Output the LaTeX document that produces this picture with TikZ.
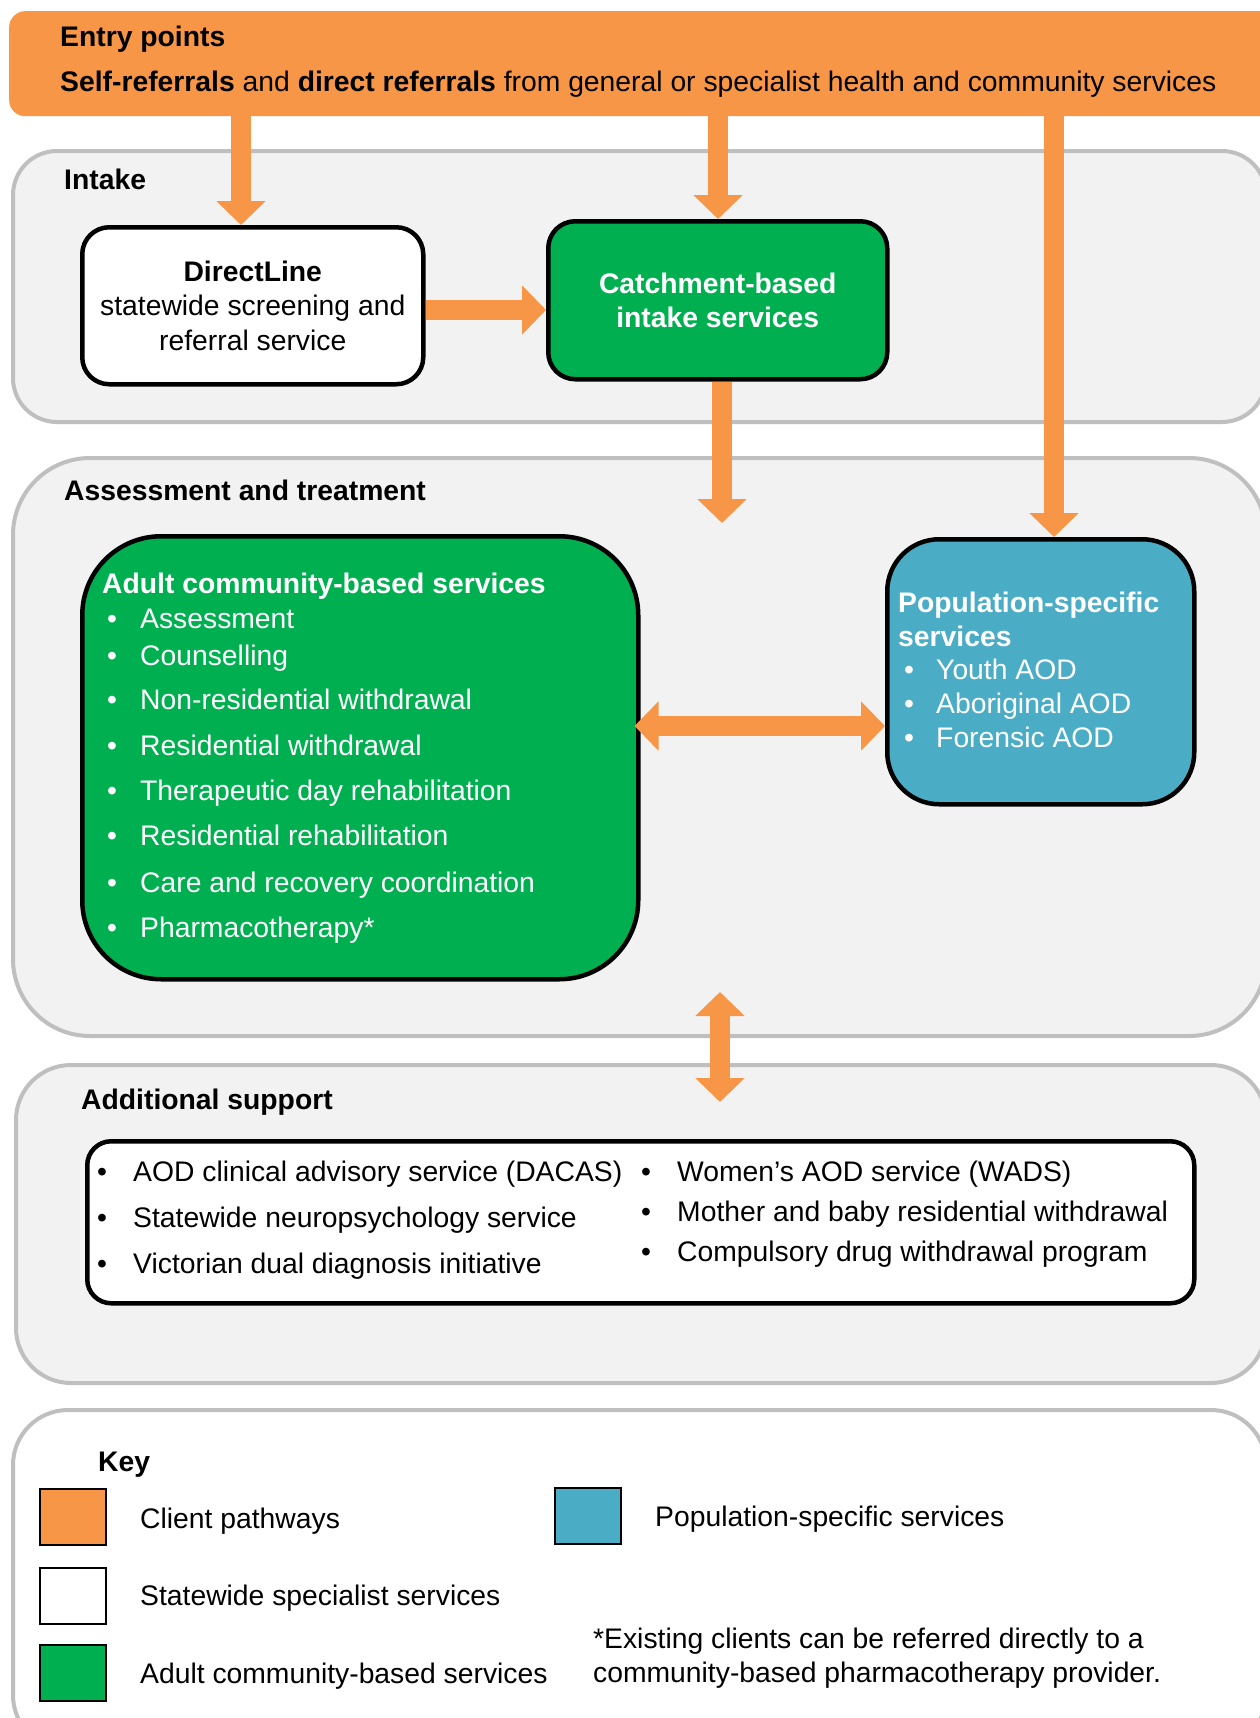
\documentclass[tikz,border=0pt]{standalone}
\usepackage{fontspec}
\setmainfont{Liberation Sans}
\usetikzlibrary{arrows.meta}
\definecolor{orng}{HTML}{F79646}
\definecolor{grn}{HTML}{00B050}
\definecolor{blu}{HTML}{4BACC6}
\definecolor{pnl}{HTML}{F2F2F2}
\definecolor{pnlb}{HTML}{BFBFBF}
\newcommand\fs{\fontsize{28.3}{34.2}\selectfont}
\begin{document}
\begin{tikzpicture}[x=1pt,y=-1pt,
  txt/.style={inner sep=0pt, font=\fs, anchor=base west},
  wtxt/.style={txt, text=white},
  panel/.style={draw=pnlb, fill=pnl, line width=4pt, anchor=north west},
  box/.style={draw=black, line width=4.5pt, anchor=north west},
  fat/.style={draw=orng, line width=20pt, -{Triangle[width=48pt,length=24pt]}},
  fatdbl/.style={draw=orng, line width=20pt, {Triangle[width=48pt,length=24pt]}-{Triangle[width=48pt,length=24pt]}},
  swatch/.style={draw=black, line width=2pt, minimum width=66pt, minimum height=56pt, anchor=north west}
]
\useasboundingbox (0,0) rectangle (1260,1718);
\fill[white] (0,0) rectangle (1260,1718);

% panels
\node[fill=orng, rounded corners=16pt, minimum width=1270pt, minimum height=105pt, anchor=north west, inner sep=0pt] (entry) at (9,11) {};
\node[panel, rounded corners=44pt, minimum width=1253pt, minimum height=271pt] (intake) at (11,149) {};
\node[panel, rounded corners=77pt, minimum width=1253pt, minimum height=578pt] (assess) at (11,456) {};
\node[panel, rounded corners=55pt, minimum width=1250pt, minimum height=318pt] (support) at (14,1063) {};
\node[panel, fill=white, rounded corners=55pt, minimum width=1253pt, minimum height=340pt] (keyp) at (11,1408) {};

% boxes
\node[box, fill=white, rounded corners=27pt, minimum width=341pt, minimum height=157pt] (dl) at (80,225) {};
\node[box, fill=grn, rounded corners=27pt, minimum width=339pt, minimum height=158pt] (catch) at (546,219) {};
\node[box, fill=grn, rounded corners=79pt, minimum width=556pt, minimum height=443pt] (adult) at (80,534) {};
\node[box, fill=blu, rounded corners=52pt, minimum width=307pt, minimum height=265pt] (pop) at (885,537) {};
\node[box, fill=white, rounded corners=24pt, minimum width=1107pt, minimum height=162pt] (inner) at (85,1139) {};

% arrows
\coordinate (c1) at (241,0);
\coordinate (c2) at (718,0);
\coordinate (c3) at (1054,0);
\coordinate (c4) at (0,310);
\coordinate (c5) at (722,523);
\coordinate (c6) at (0,726);
\coordinate (c7a) at (720,992);
\coordinate (c7b) at (720,1102);
\draw[fat] (entry.south -| c1) -- (dl.north -| c1);
\draw[fat] (entry.south -| c2) -- (catch.north -| c2);
\draw[fat] (entry.south -| c3) -- (pop.north -| c3);
\draw[fat] (dl.east |- c4) -- (catch.west |- c4);
\draw[fat] (catch.south -| c5) -- (c5);
\draw[fatdbl] ([xshift=-6pt]adult.east |- c6) -- (pop.west |- c6);
\draw[fatdbl] (c7a) -- (c7b);

% texts
\node[txt, font=\fs\bfseries] (t1) at (60,47) {Entry points};
\node[txt] (t2) at (60,92) {\textbf{Self-referrals} and \textbf{direct referrals} from general or specialist health and community services};
\node[txt, font=\fs\bfseries] (t3) at (64,189) {Intake};
\node[inner sep=0pt, font=\fs, align=center] (dlt) at (dl.center) {\textbf{DirectLine}\\statewide screening and\\referral service};
\node[inner sep=0pt, font=\fs\bfseries, align=center, text=white] (ct) at (catch.center) {Catchment-based\\intake services};
\node[txt, font=\fs\bfseries] (t4) at (64,500) {Assessment and treatment};

\node[wtxt, font=\fs\bfseries] (at) at (102,593) {Adult community-based services};
\foreach \y/\s [count=\i] in {628/Assessment, 665/Counselling, 709/Non-residential withdrawal, 755/Residential withdrawal, 800/Therapeutic day rehabilitation, 845/Residential rehabilitation, 892/Care and recovery coordination, 937/Pharmacotherapy*}{
  \node[wtxt] (ab\i) at (107,\y) {•};
  \node[wtxt] (ai\i) at (140,\y) {\s};
}
\node[wtxt, font=\fs\bfseries] (pt1) at (898,612) {Population-specific};
\node[wtxt, font=\fs\bfseries] (pt2) at (898,646) {services};
\foreach \y/\s [count=\i] in {679/Youth AOD, 713/Aboriginal AOD, 747/Forensic AOD}{
  \node[wtxt] (pb\i) at (904,\y) {•};
  \node[wtxt] (pi\i) at (936,\y) {\s};
}

\node[txt, font=\fs\bfseries] (t5) at (81,1109) {Additional support};
\foreach \y/\s [count=\i] in {1181/AOD clinical advisory service (DACAS), 1227/Statewide neuropsychology service, 1273/Victorian dual diagnosis initiative}{
  \node[txt] (lb\i) at (97,\y) {•};
  \node[txt] (li\i) at (133,\y) {\s};
}
\foreach \y/\s [count=\i] in {1181/Women’s AOD service (WADS), 1221/Mother and baby residential withdrawal, 1261/Compulsory drug withdrawal program}{
  \node[txt] (rb\i) at (641,\y) {•};
  \node[txt] (ri\i) at (677,\y) {\s};
}

% key
\node[txt, font=\fs\bfseries] (kt) at (98,1471) {Key};
\node[swatch, fill=orng] (k1) at (39,1488) {};
\node[swatch, fill=white] (k2) at (39,1567) {};
\node[swatch, fill=grn] (k3) at (39,1644) {};
\node[swatch, fill=blu] (k4) at (554,1487) {};
\node[txt] (kl1) at (140,1528) {Client pathways};
\node[txt] (kl2) at (140,1605) {Statewide specialist services};
\node[txt] (kl3) at (140,1683) {Adult community-based services};
\node[txt] (kl4) at (655,1526) {Population-specific services};
\node[txt] (fn1) at (593,1648) {*Existing clients can be referred directly to a};
\node[txt] (fn2) at (593,1682) {community-based pharmacotherapy provider.};
\end{tikzpicture}
\end{document}
